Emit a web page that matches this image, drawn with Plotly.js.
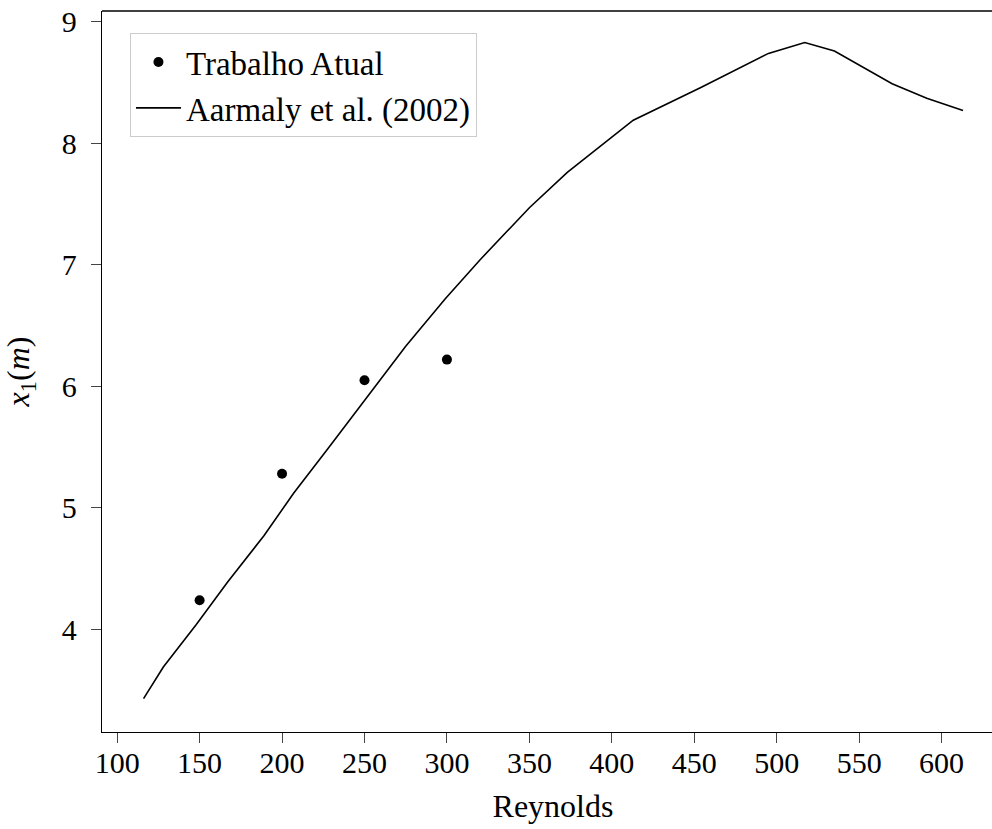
<!DOCTYPE html>
<html>
<head>
<meta charset="utf-8">
<script src="https://cdn.plot.ly/plotly-3.0.1.min.js"></script>
<style>
html, body { margin: 0; padding: 0; overflow: hidden; background: #fff; width: 992px; height: 829px; }
#wrap { width: 992px; height: 829px; overflow: hidden; position: relative; }
#chart { width: 1010px; height: 829px; position: absolute; left: 0; top: 0; }
</style>
</head>
<body>
<div id="wrap"><div id="chart"></div></div>
<script>
// Trabalho Atual (points)
const reynoldsAtual = [150, 200, 250, 300];
const x1Atual = [4.24, 5.28, 6.05, 6.22];

// Aarmaly et al. (2002) (line)
const reynoldsArmaly = [116, 128, 148, 167, 189, 207, 228, 251, 275, 299, 320, 350, 373, 413, 454, 495, 517, 535, 570, 591, 613];
const x1Armaly = [3.43, 3.69, 4.04, 4.39, 4.77, 5.12, 5.49, 5.90, 6.33, 6.72, 7.04, 7.47, 7.76, 8.19, 8.46, 8.74, 8.83, 8.76, 8.49, 8.37, 8.27];

const xTicks = [100, 150, 200, 250, 300, 350, 400, 450, 500, 550, 600];
const yTicks = [4, 5, 6, 7, 8, 9];

const FONT = '"Liberation Serif", "DejaVu Serif", serif';

const traces = [
  {
    x: reynoldsAtual, y: x1Atual, mode: 'markers', type: 'scatter',
    name: 'Trabalho Atual',
    marker: { color: '#000', size: 10 }
  },
  {
    x: reynoldsArmaly, y: x1Armaly, mode: 'lines', type: 'scatter',
    name: 'Aarmaly et al. (2002)',
    line: { color: '#000', width: 1.6 }
  }
];

const axisCommon = {
  showgrid: false, zeroline: false,
  showline: true, linecolor: '#000', linewidth: 1.3,
  ticks: 'outside', ticklen: 10, tickwidth: 1, tickcolor: '#444',
  tickfont: { family: FONT, size: 30, color: '#000' }
};

const layout = {
  width: 1010, height: 829,
  margin: { l: 102, r: 6, t: 11, b: 97 },
  paper_bgcolor: '#fff', plot_bgcolor: '#fff',
  font: { family: FONT, color: '#000' },
  showlegend: true,
  legend: {
    x: 0.031, y: 0.9695, xanchor: 'left', yanchor: 'top',
    bgcolor: '#fff', bordercolor: '#ccc', borderwidth: 1,
    font: { family: FONT, size: 33, color: '#000' },
    itemwidth: 45,
    tracegroupgap: 0
  },
  xaxis: Object.assign({}, axisCommon, {
    range: [90.8, 637.85],
    tickmode: 'array', tickvals: xTicks, ticktext: xTicks.map(String),
    ticklabelstandoff: -6,
    title: { text: 'Reynolds', font: { family: FONT, size: 32, color: '#000' }, standoff: 16 }
  }),
  yaxis: Object.assign({}, axisCommon, {
    range: [3.155, 9.089],
    tickmode: 'array', tickvals: yTicks, ticktext: yTicks.map(String),
    ticklabelstandoff: 8,
    title: { text: '<i>x</i><sub>1</sub>(<i>m</i>)', font: { family: FONT, size: 32, color: '#000' }, standoff: 22 }
  }),
  shapes: [
    { type: 'line', xref: 'paper', yref: 'paper', x0: 0, x1: 1, y0: 1, y1: 1, line: { color: '#000', width: 1.3 } }
  ]
};

Plotly.newPlot('chart', traces, layout, { displayModeBar: false, staticPlot: true });
</script>
</body>
</html>
